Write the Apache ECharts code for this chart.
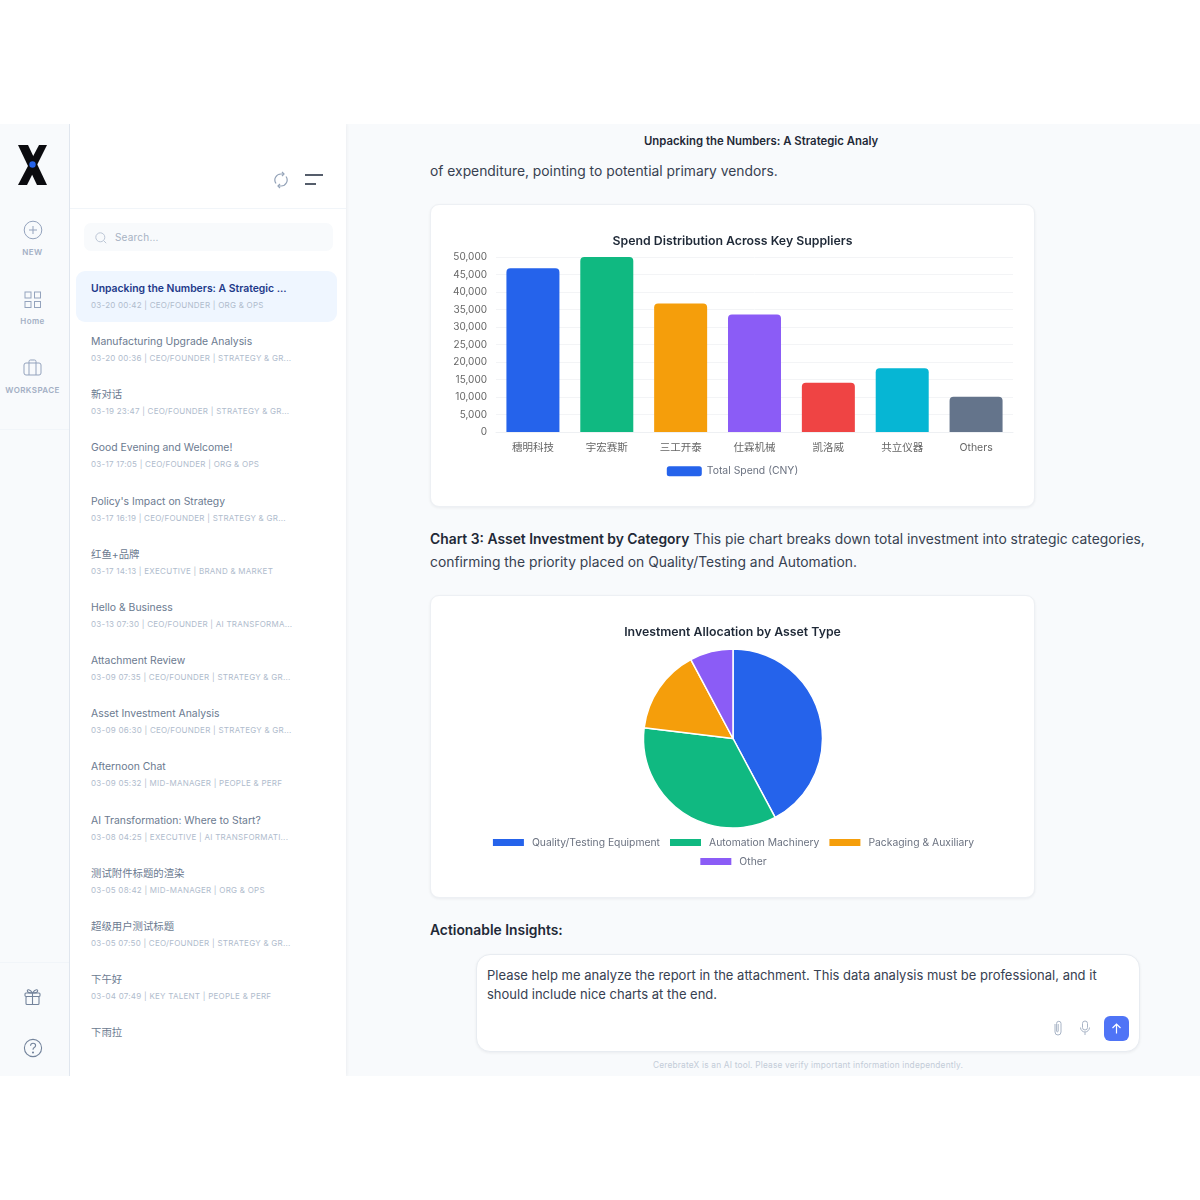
<!DOCTYPE html>
<html>
<head>
<meta charset="utf-8">
<title>Unpacking the Numbers</title>
<script src="https://cdn.jsdelivr.net/npm/echarts@6/dist/echarts.min.js"></script>
<style>
html,body{margin:0;padding:0;background:#fff;}
body{width:1200px;height:1200px;position:relative;overflow:hidden;font-family:Inter,"Noto Sans CJK SC",sans-serif;}
#app{position:absolute;left:0;top:124px;width:1200px;height:952px;background:#f8fafc;overflow:hidden;}
#rail{position:absolute;left:0;top:0;width:69px;height:952px;background:#f8fafc;border-right:1px solid #e2e8f0;box-shadow:1px 0 3px rgba(15,23,42,.06);}
#side{position:absolute;left:70px;top:0;width:276px;height:952px;background:#fff;box-shadow:1px 0 3px rgba(15,23,42,.05);}
.abs{position:absolute;white-space:nowrap;}
.railtxt{left:0;width:65px;text-align:center;font-size:8px;font-weight:600;color:#a3afc4;letter-spacing:.4px;}
.rule{position:absolute;height:1px;background:#f1f5f9;}
.ttl{left:21px;font-size:10.4px;line-height:14px;color:#6b7a90;}
.meta{left:21px;font-size:8px;line-height:12px;color:#b0bccd;letter-spacing:.25px;}
.card{position:absolute;left:430px;width:603px;background:#fff;border:1px solid #edf0f4;border-radius:9px;box-shadow:0 1px 3px rgba(15,23,42,.06);}
.para{left:430px;font-size:13.85px;line-height:23px;color:#374151;}
.para b{color:#1f2937;font-weight:600;}
</style>
</head>
<body>
<div id="app">
  <div id="rail">
    <svg class="abs" style="left:16px;top:20px" width="33" height="42" viewBox="0 0 33 42">
      <path d="M2 1H12L31 41H21Z" fill="#0b0b0f"/>
      <path d="M31 1H23L2 41H11Z" fill="#0b0b0f"/>
      <circle cx="16.5" cy="20.5" r="3.2" fill="#2563eb"/>
    </svg>
    <svg class="abs" style="left:23px;top:96px" width="20" height="20" fill="none" stroke="#94a3bd" stroke-width="1"><circle cx="10" cy="10" r="8.8"/><path d="M10 6v8M6 10h8"/></svg>
    <div class="abs railtxt" style="top:123px">NEW</div>
    <svg class="abs" style="left:24px;top:167px" width="18" height="18" fill="none" stroke="#94a3bd" stroke-width="1"><rect x="1" y="1" width="6" height="6"/><rect x="10.5" y="1" width="6" height="6"/><rect x="1" y="10.5" width="6" height="6"/><rect x="10.5" y="10.5" width="6" height="6"/></svg>
    <div class="abs railtxt" style="top:192px">Home</div>
    <svg class="abs" style="left:23px;top:235px" width="20" height="17" fill="none" stroke="#94a3bd" stroke-width="1"><rect x="1" y="4" width="17" height="12" rx="2"/><path d="M6 16V2.5q0-1.500 1.500-1.500h4q1.500 0 1.500 1.500V16"/></svg>
    <div class="abs railtxt" style="top:261px">WORKSPACE</div>
    <div class="rule" style="left:0;top:305px;width:69px"></div>
    <div class="rule" style="left:0;top:838px;width:69px"></div>
    <svg class="abs" style="left:24px;top:864px" width="18" height="18" fill="none" stroke="#74849c" stroke-width="1.100"><rect x="1" y="5" width="15" height="3.500" rx="1"/><rect x="2" y="8.500" width="13" height="8" rx="1"/><path d="M8.500 5v11.500M8.500 5C6 1 2.500 1 3.500 3.500 4 5 8.500 5 8.500 5ZM8.500 5c2.500-4 6-4 5-1.500C13 5 8.500 5 8.500 5Z"/></svg>
    <svg class="abs" style="left:23px;top:914px" width="20" height="20" fill="none" stroke="#74849c" stroke-width="1.100"><circle cx="10" cy="10" r="8.600"/><path d="M7.500 7.800q.2-2.600 2.600-2.600 2.500 0 2.500 2.300 0 1.300-1.300 2-1.300.7-1.300 2.200"/><circle cx="10" cy="14.500" r=".5"/></svg>
  </div>
  <div id="side">
    <svg class="abs" style="left:204px;top:47px" width="14" height="18" fill="none" stroke="#94a3b8" stroke-width="1.200"><path d="M2 12.500A6 6 0 0 1 7 3h2M12 5.500A6 6 0 0 1 7 15H5"/><path d="M8 1l2 2-2 2M6 13l-2 2 2 2"/></svg>
    <svg class="abs" style="left:235px;top:50px" width="19" height="12" stroke="#1e293b" stroke-width="1.300"><path d="M0 1h18M0 10h11"/></svg>
    <div class="rule" style="left:0;top:84px;width:276px"></div>
    <div class="abs" style="left:14px;top:99px;width:249px;height:28px;background:#f8fafc;border-radius:7px"></div>
    <svg class="abs" style="left:25px;top:108px" width="12" height="12" fill="none" stroke="#b6c1d1" stroke-width=".9"><circle cx="5.300" cy="5.300" r="4.500"/><path d="M8.600 8.600l2.600 2.600"/></svg>
    <div class="abs" style="left:45px;top:106px;font-size:10px;line-height:14px;color:#a7b2c3;letter-spacing:.2px">Search...</div>
    <div class="abs" style="left:6px;top:147px;width:261px;height:51px;background:#eff6ff;border-radius:9px"></div>
    <div id="convos"></div>
  </div>
  <div id="main">
    <div class="abs" style="left:644px;top:10px;font-size:11.35px;line-height:15px;font-weight:600;color:#1f2937">Unpacking the Numbers: A Strategic Analy</div>
    <div class="abs para" style="top:36px">of expenditure, pointing to potential primary vendors.</div>
    <div class="card" style="top:80px;height:301px"><div id="barChart" style="width:603px;height:301px"></div></div>
    <div class="abs para" style="top:404px"><b>Chart 3: Asset Investment by Category</b> This pie chart breaks down total investment into strategic categories,<br>confirming the priority placed on Quality/Testing and Automation.</div>
    <div class="card" style="top:471px;height:301px"><div id="pieChart" style="width:603px;height:301px"></div></div>
    <div class="abs para" style="top:795px"><b>Actionable Insights:</b></div>
    <div class="abs" style="left:476px;top:830px;width:662px;height:96px;background:#fff;border:1px solid #e8ecf1;border-radius:14px;box-shadow:0 1px 3px rgba(15,23,42,.06)"></div>
    <div class="abs" style="left:487px;top:842px;font-size:13px;line-height:19px;color:#374151">Please help me analyze the report in the attachment. This data analysis must be professional, and it<br>should include nice charts at the end.</div>
    <svg class="abs" style="left:1052px;top:896px" width="12" height="16" fill="none" stroke="#a8b4c6" stroke-width="1"><path d="M3 4v8a3 3 0 0 0 6 0V3.500a2.200 2.200 0 0 0-4.400 0V11a.8.8 0 0 0 1.600 0V4"/></svg>
    <svg class="abs" style="left:1079px;top:896px" width="12" height="16" fill="none" stroke="#a8b4c6" stroke-width="1"><rect x="3.500" y="1" width="5" height="9" rx="2.500"/><path d="M1.500 7.500a4.500 4.500 0 0 0 9 0M6 12v3"/></svg>
    <div class="abs" style="left:1104px;top:892px;width:25px;height:25px;background:#4f74f6;border-radius:6px"></div>
    <svg class="abs" style="left:1110px;top:898px" width="13" height="13" fill="none" stroke="#fff" stroke-width="1.200"><path d="M6.500 11.500V2M2.500 6l4-4 4 4"/></svg>
    <div class="abs" style="left:476px;width:664px;top:935px;text-align:center;font-size:8.3px;line-height:12px;color:#c3ccd8;letter-spacing:.2px">CerebrateX is an AI tool. Please verify important information independently.</div>
  </div>
</div>
<script>
var convoTitles = ['Unpacking the Numbers: A Strategic ...','Manufacturing Upgrade Analysis','新对话','Good Evening and Welcome!',"Policy's Impact on Strategy",'红鱼+品牌','Hello & Business','Attachment Review','Asset Investment Analysis','Afternoon Chat','AI Transformation: Where to Start?','测试附件标题的渲染','超级用户测试标题','下午好','下雨拉'];
var convoMeta = ['03-20 00:42 | CEO/FOUNDER | ORG & OPS','03-20 00:36 | CEO/FOUNDER | STRATEGY & GR...','03-19 23:47 | CEO/FOUNDER | STRATEGY & GR...','03-17 17:05 | CEO/FOUNDER | ORG & OPS','03-17 16:19 | CEO/FOUNDER | STRATEGY & GR...','03-17 14:13 | EXECUTIVE | BRAND & MARKET','03-13 07:30 | CEO/FOUNDER | AI TRANSFORMA...','03-09 07:35 | CEO/FOUNDER | STRATEGY & GR...','03-09 06:30 | CEO/FOUNDER | STRATEGY & GR...','03-09 05:32 | MID-MANAGER | PEOPLE & PERF','03-08 04:25 | EXECUTIVE | AI TRANSFORMATI...','03-05 08:42 | MID-MANAGER | ORG & OPS','03-05 07:50 | CEO/FOUNDER | STRATEGY & GR...','03-04 07:49 | KEY TALENT | PEOPLE & PERF',''];

var suppliers = ['穗明科技','宇宏赛斯','三工开泰','仕霖机械','凯洛威','共立仪器','Others'];
var supplierSpend = [46800,50000,36700,33600,14100,18200,10100];
var supplierColors = ['#2563eb','#10b981','#f59e0b','#8b5cf6','#ef4444','#06b6d4','#64748b'];
var spendTicks = 5000;

var assetTypes = ['Quality/Testing Equipment','Automation Machinery','Packaging & Auxiliary','Other'];
var assetShare = [42.2,34.7,15.3,7.8];
var assetColors = ['#2563eb','#10b981','#f59e0b','#8b5cf6'];

var fontName = 'Inter, "Noto Sans CJK SC", sans-serif';

//会话列表
var html = '';
for (var i = 0; i < convoTitles.length; i++) {
    var rowTop = 158 + i * 53.15;
    var first = i == 0 ? 'color:#1e3a8a;font-weight:600;' : '';
    html += '<div class="abs ttl" style="top:' + rowTop + 'px;' + first + '">' + convoTitles[i].replace('&', '&amp;') + '</div>';
    html += '<div class="abs meta" style="top:' + (rowTop + 17) + 'px">' + convoMeta[i].replace(/&/g, '&amp;') + '</div>';
}
document.getElementById('convos').innerHTML = html;

//柱状图
var barChart = echarts.init(document.getElementById('barChart'));
barChart.setOption({
    animation: false,
    title: {text: 'Spend Distribution Across Key Suppliers', left: 'center', top: 25, textStyle: {fontFamily: fontName, fontSize: 12.3, fontWeight: 600, color: '#1f2937'}},
    legend: {
        data: ['Total Spend (CNY)'], left: 'center', top: 256,
        itemWidth: 35, itemHeight: 10, itemGap: 9,
        textStyle: {fontFamily: fontName, fontSize: 10.4, color: '#6b7280'}
    },
    grid: {left: 65, right: 21, top: 52, bottom: 74},
    xAxis: {
        type: 'category', data: suppliers,
        axisLine: {lineStyle: {color: '#eef0f3'}}, axisTick: {show: false},
        axisLabel: {fontFamily: fontName, fontSize: 10.5, color: '#666', margin: 11}
    },
    yAxis: {
        type: 'value', min: 0, max: 50000, interval: spendTicks,
        axisLine: {show: false}, axisTick: {show: false},
        axisLabel: {fontFamily: fontName, fontSize: 10, color: '#666', margin: 9, formatter: function (v) { return v.toLocaleString('en-US'); }},
        splitLine: {lineStyle: {color: '#f3f4f6'}}
    },
    series: [{
        name: 'Total Spend (CNY)', type: 'bar', barWidth: 53,
        itemStyle: {color: supplierColors[0]},
        data: supplierSpend.map(function (v, i) {
            return {value: v, itemStyle: {color: supplierColors[i], borderRadius: [4, 4, 0, 0]}};
        })
    }]
});

//饼图
var pieChart = echarts.init(document.getElementById('pieChart'));
var pieLegend = {
    left: 'center', itemWidth: 33, itemHeight: 9, itemGap: 8,
    icon: 'rect',
    textStyle: {fontFamily: fontName, fontSize: 10.35, color: '#6b7280', padding: [0, 0, 0, 2]}
};
pieChart.setOption({
    animation: false,
    title: {text: 'Investment Allocation by Asset Type', left: 'center', top: 25, textStyle: {fontFamily: fontName, fontSize: 12.3, fontWeight: 600, color: '#1f2937'}},
    legend: [
        Object.assign({}, pieLegend, {data: assetTypes.slice(0, 3), top: 236}),
        Object.assign({}, pieLegend, {data: assetTypes.slice(3), top: 255})
    ],
    series: [{
        type: 'pie', center: [302, 142.5], radius: [0, 89.5], startAngle: 90, clockwise: true,
        label: {show: false}, labelLine: {show: false}, emphasis: {disabled: true},
        itemStyle: {borderColor: '#fff', borderWidth: 1.5},
        data: assetTypes.map(function (name, i) {
            return {name: name, value: assetShare[i], itemStyle: {color: assetColors[i]}};
        })
    }]
});
</script>
</body>
</html>
